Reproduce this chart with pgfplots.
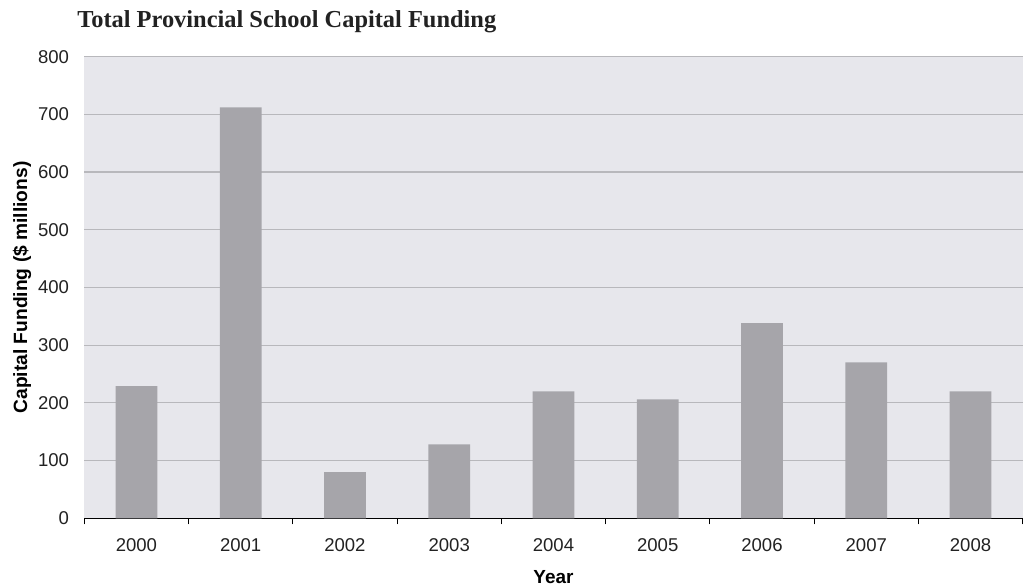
\documentclass[border=0pt]{standalone}
\usepackage{pgfplots}
\pgfplotsset{compat=1.18}
\usepackage{fontspec}
\setmainfont{Liberation Sans}
\newfontfamily\titlefont{Liberation Serif}
\definecolor{bgc}{HTML}{E7E7EC}
\definecolor{barc}{HTML}{A6A5AA}
\definecolor{gridc}{HTML}{B8B8BC}
\definecolor{txtc}{HTML}{222222}
\begin{document}
\begin{tikzpicture}
\useasboundingbox (0pt,0pt) rectangle (768.75pt,439.5pt);
\node[anchor=base west, inner sep=0pt, text=txtc, font=\titlefont\bfseries\fontsize{18.3}{20}\selectfont] at (57.75pt,418.5pt) {Total Provincial School Capital Funding};
\begin{axis}[
  at={(63.2pt,50.8pt)}, anchor=south west,
  scale only axis, width=703.8pt, height=346.2pt,
  xmin=-0.5, xmax=8.5, ymin=0, ymax=800,
  axis background/.style={fill=bgc},
  axis x line*=bottom, axis y line*=left,
  y axis line style={draw=none},
  x axis line style={black, line width=0.9pt},
  ybar, bar width=31.3pt,
  xtick={0,...,8},
  xticklabels={2000,2001,2002,2003,2004,2005,2006,2007,2008},
  minor xtick={-0.5,0.5,...,8.5},
  major tick length=0pt, minor tick length=4.5pt,
  tick align=outside,
  minor tick style={black, line width=0.8pt},
  ytick={0,100,...,800},
  ytick style={draw=none},
  ymajorgrids, xmajorgrids=false, xminorgrids=false,
  major grid style={gridc, line width=0.9pt},
  /pgf/number format/assume math mode=true,
  tick label style={font=\fontsize{13.9}{15}\selectfont, text=txtc, inner sep=0pt},
  xticklabel style={anchor=north, yshift=-14.8pt},
  yticklabel style={anchor=east, xshift=-11.25pt},
  xlabel={Year}, ylabel={Capital Funding (\$ millions)},
  every axis x label/.style={at={(axis description cs:0.5,-0.1413)}, anchor=base, font=\bfseries\fontsize{14.2}{15}\selectfont, text=black},
  every axis y label/.style={at={(axis description cs:-0.0664,0.5)}, rotate=90, anchor=center, font=\bfseries\fontsize{14.4}{15}\selectfont, text=black},
]
\addplot[fill=barc, draw=none] coordinates {(0,229) (1,712) (2,80) (3,128) (4,220) (5,206) (6,338) (7,270) (8,220)};
\end{axis}
\end{tikzpicture}
\end{document}
